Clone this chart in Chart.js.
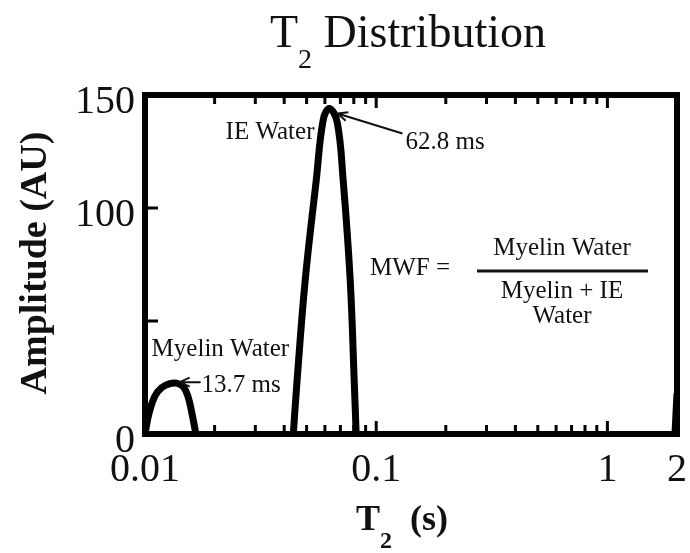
<!DOCTYPE html>
<html>
<head>
<meta charset="utf-8">
<script src="https://cdn.jsdelivr.net/npm/chart.js@4/dist/chart.umd.min.js"></script>
<style>
  html, body { margin: 0; padding: 0; background: #ffffff; }
  #wrap { width: 690px; height: 553px; }
</style>
</head>
<body>
<div id="wrap"><canvas id="c" width="690" height="553"></canvas></div>
<script>
// T2 relaxation distribution (T2 in seconds, amplitude in AU)
const myelinT2  = [0.0100, 0.0104, 0.0110, 0.0118, 0.0128, 0.0137, 0.0146, 0.0153, 0.0159, 0.0166];
const myelinAmp = [0,      9,      16.5,   20.5,   22.3,   22.5,   21,     17,     10,     0];

const ieT2  = [0.0438, 0.0455, 0.0493, 0.0550, 0.0590, 0.0628, 0.0678, 0.0720, 0.0772, 0.0803, 0.0819];
const ieAmp = [0,      24,     68,     112,    139,    144,    138,    112,    68,     24,     0];

const longT2  = [1.96, 2.0];
const longAmp = [0,    18];

// peak annotations
const myelinPeakT2 = 0.0137, myelinPeakAmp = 22.5, myelinPeakLabel = '13.7 ms';
const iePeakT2 = 0.0628, iePeakAmp = 144, iePeakLabel = '62.8 ms';

// axis ticks
const xMajorTicks  = [0.01, 0.1, 1, 2];
const xMajorLabels = ['0.01', '0.1', '1', '2'];
const xMinorTicks  = [0.02, 0.03, 0.04, 0.05, 0.06, 0.07, 0.08, 0.09, 0.2, 0.3, 0.4, 0.5, 0.6, 0.7, 0.8, 0.9];
const yTicks       = [0, 50, 100, 150];
const yTickLabels  = ['0', '', '100', '150'];

const SERIF = '"Liberation Serif", "DejaVu Serif", serif';

function toPoints(xs, ys) { return xs.map((x, i) => ({ x: x, y: ys[i] })); }

function arrow(ctx, x1, y1, x2, y2) {
  // line from (x1,y1) to the tip (x2,y2) with an open head
  const ang = Math.atan2(y2 - y1, x2 - x1);
  const L = 11, W = 0.42;
  ctx.beginPath();
  ctx.moveTo(x1, y1);
  ctx.lineTo(x2, y2);
  ctx.moveTo(x2 - L * Math.cos(ang - W), y2 - L * Math.sin(ang - W));
  ctx.lineTo(x2, y2);
  ctx.lineTo(x2 - L * Math.cos(ang + W), y2 - L * Math.sin(ang + W));
  ctx.stroke();
}

const framePlugin = {
  id: 'frame',
  afterDatasetsDraw(chart) {
    const { ctx, chartArea: a, scales: { x, y } } = chart;
    ctx.save();
    ctx.strokeStyle = '#000';
    ctx.lineCap = 'butt';
    // inward ticks
    ctx.lineWidth = 3;
    const tick = (px, len) => {
      ctx.beginPath();
      ctx.moveTo(px, a.bottom); ctx.lineTo(px, a.bottom - len);
      ctx.moveTo(px, a.top);    ctx.lineTo(px, a.top + len);
      ctx.stroke();
    };
    xMinorTicks.forEach(v => tick(x.getPixelForValue(v), 9));
    xMajorTicks.forEach(v => tick(x.getPixelForValue(v), 13));
    yTicks.forEach(v => {
      const py = y.getPixelForValue(v);
      ctx.beginPath(); ctx.moveTo(a.left, py); ctx.lineTo(a.left + 13, py); ctx.stroke();
    });
    // box
    ctx.lineWidth = 6;
    ctx.lineJoin = 'miter';
    ctx.strokeRect(a.left, a.top, a.right - a.left, a.bottom - a.top);
    ctx.restore();
  },
  afterDraw(chart) {
    const { ctx, chartArea: a, scales: { x, y } } = chart;
    ctx.save();
    ctx.fillStyle = '#111';
    ctx.strokeStyle = '#111';

    // title: T2 Distribution
    ctx.textBaseline = 'alphabetic';
    ctx.textAlign = 'left';
    ctx.font = '46px ' + SERIF;
    let tx = 270;
    ctx.fillText('T', tx, 47);
    tx += ctx.measureText('T').width;
    ctx.font = '28px ' + SERIF;
    ctx.fillText('2', tx, 68);
    tx += ctx.measureText('2').width;
    ctx.font = '46px ' + SERIF;
    ctx.fillText(' Distribution', tx, 47);

    // x tick labels
    ctx.font = '40px ' + SERIF;
    ctx.textAlign = 'center';
    xMajorTicks.forEach((v, i) => ctx.fillText(xMajorLabels[i], x.getPixelForValue(v), 481));

    // y tick labels
    ctx.textAlign = 'right';
    ctx.textBaseline = 'middle';
    yTicks.forEach((v, i) => {
      if (yTickLabels[i]) ctx.fillText(yTickLabels[i], a.left - 10, y.getPixelForValue(v) + 7);
    });

    // x axis title: T2 (s)
    ctx.textBaseline = 'alphabetic';
    ctx.textAlign = 'left';
    ctx.font = 'bold 36px ' + SERIF;
    let ax = 356;
    ctx.fillText('T', ax, 530);
    ax += ctx.measureText('T').width;
    ctx.font = 'bold 24px ' + SERIF;
    ctx.fillText('2', ax, 548);
    ax += ctx.measureText('2').width;
    ctx.font = 'bold 36px ' + SERIF;
    ctx.fillText('  (s)', ax, 530);

    // y axis title
    ctx.save();
    ctx.translate(46, 263);
    ctx.rotate(-Math.PI / 2);
    ctx.textAlign = 'center';
    ctx.font = 'bold 38px ' + SERIF;
    ctx.fillText('Amplitude (AU)', 0, 0);
    ctx.restore();

    // peak annotations
    ctx.font = '25px ' + SERIF;
    ctx.lineWidth = 2;
    const ix = x.getPixelForValue(iePeakT2), iy = y.getPixelForValue(iePeakAmp);
    ctx.textAlign = 'right';
    ctx.fillText('IE Water', ix - 15, iy + 30);
    arrow(ctx, ix + 73, iy + 25, ix + 8, iy + 5);
    ctx.textAlign = 'left';
    ctx.fillText(iePeakLabel, ix + 76, iy + 40);

    const mx = x.getPixelForValue(myelinPeakT2), my = y.getPixelForValue(myelinPeakAmp);
    ctx.fillText('Myelin Water', mx - 25, my - 27);
    arrow(ctx, mx + 24, my - 1, mx + 3, my - 1);
    ctx.fillText(myelinPeakLabel, mx + 25, my + 9);

    // myelin water fraction
    ctx.font = '25px ' + SERIF;
    ctx.textAlign = 'left';
    ctx.textBaseline = 'middle';
    ctx.fillText('MWF =', 370, 268);
    ctx.textAlign = 'center';
    ctx.textBaseline = 'alphabetic';
    const fx = 562;
    ctx.fillText('Myelin Water', fx, 255);
    ctx.lineWidth = 3;
    ctx.beginPath(); ctx.moveTo(477, 271); ctx.lineTo(648, 271); ctx.stroke();
    ctx.fillText('Myelin + IE', fx, 298);
    ctx.fillText('Water', fx, 323);
    ctx.restore();
  }
};

const lineStyle = {
  borderColor: '#000',
  borderWidth: 7,
  pointRadius: 0,
  fill: false,
  tension: 0.4,
  borderJoinStyle: 'round'
};

new Chart(document.getElementById('c'), {
  type: 'line',
  data: {
    datasets: [
      Object.assign({ label: 'Myelin Water', data: toPoints(myelinT2, myelinAmp) }, lineStyle),
      Object.assign({ label: 'IE Water', data: toPoints(ieT2, ieAmp) }, lineStyle),
      Object.assign({ label: 'Long T2', data: toPoints(longT2, longAmp) }, lineStyle)
    ]
  },
  options: {
    responsive: false,
    animation: false,
    devicePixelRatio: 1,
    layout: { padding: { top: 95, right: 13, left: 0, bottom: 0 } },
    plugins: { legend: { display: false }, tooltip: { enabled: false }, title: { display: false } },
    scales: {
      x: {
        type: 'logarithmic', min: 0.01, max: 2,
        ticks: { display: false }, grid: { display: false }, border: { display: false },
        afterFit(s) { s.height = 119; }
      },
      y: {
        type: 'linear', min: 0, max: 150,
        ticks: { display: false }, grid: { display: false }, border: { display: false },
        afterFit(s) { s.width = 145; }
      }
    }
  },
  plugins: [framePlugin]
});
</script>
</body>
</html>
